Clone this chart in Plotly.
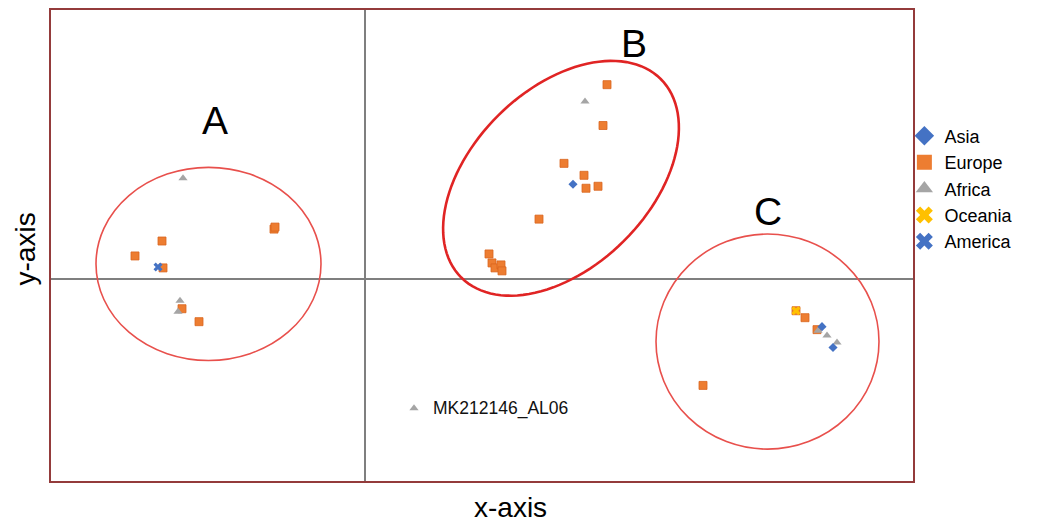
import numpy as np
import plotly.graph_objects as go

# Sample coordinates by region of origin
europe_x = [-0.91, -0.90, -2.03, -2.30, -2.02, -1.83, -1.66,
            2.42, 2.38, 1.99, 2.19, 2.21, 2.33, 1.74, 1.24, 1.27, 1.30, 1.36, 1.37,
            4.31, 4.40, 4.52, 3.38]
europe_y = [0.50, 0.52, 0.38, 0.23, 0.11, -0.30, -0.43,
            1.95, 1.54, 1.16, 1.04, 0.91, 0.93, 0.60, 0.25, 0.16, 0.11, 0.14, 0.08,
            -0.32, -0.39, -0.51, -1.07]

africa_x = [-1.82, -1.85, -1.87, 2.20, 4.53, 4.62, 4.72, 0.49]
africa_y = [1.01, -0.22, -0.33, 1.78, -0.52, -0.57, -0.64, -1.30]

asia_x = [2.08, 4.57, 4.68]
asia_y = [0.95, -0.48, -0.69]

oceania_x = [4.31]
oceania_y = [-0.32]

america_x = [-2.07]
america_y = [0.12]

regions = ["Asia", "Europe", "Africa", "Oceania", "America"]

outlier_name = "MK212146_AL06"
outlier_x, outlier_y = 0.49, -1.30

FONT = "Liberation Sans, Arial, sans-serif"
style = {
    "Asia": dict(symbol="diamond", color="#4472C4", size=7),
    "Europe": dict(symbol="square", color="#ED7D31", size=8),
    "Africa": dict(symbol="triangle-up", color="#A5A5A5", size=8),
    "Oceania": dict(symbol="x", color="#FFC000", size=8),
    "America": dict(symbol="x", color="#4472C4", size=8),
}
data = {
    "Europe": (europe_x, europe_y),
    "Africa": (africa_x, africa_y),
    "Asia": (asia_x, asia_y),
    "Oceania": (oceania_x, oceania_y),
    "America": (america_x, america_y),
}

fig = go.Figure()

# scatter points (drawn Europe first so the other groups sit on top)
for name in ["Europe", "Africa", "Asia", "Oceania", "America"]:
    xs, ys = data[name]
    s = style[name]
    line = dict(width=0.8, color="#D9641E") if name == "Europe" else dict(width=0)
    fig.add_trace(go.Scatter(
        x=xs, y=ys, mode="markers", showlegend=False, name=name,
        marker=dict(symbol=s["symbol"], color=s["color"], size=s["size"], line=line),
    ))

# legend entries with larger symbols
for name in regions:
    s = style[name]
    fig.add_trace(go.Scatter(
        x=[None], y=[None], mode="markers", name=name,
        marker=dict(symbol=s["symbol"], color=s["color"], size=15, line=dict(width=0)),
    ))

# cluster outlines
ell_red = "#E8504C"
fig.add_shape(type="circle", xref="x", yref="y",
              x0=-1.565 - 1.125, x1=-1.565 + 1.125, y0=0.15 - 0.97, y1=0.15 + 0.97,
              line=dict(color=ell_red, width=1.6))
fig.add_shape(type="circle", xref="x", yref="y",
              x0=4.025 - 1.115, x1=4.025 + 1.115, y0=-0.63 - 1.08, y1=-0.63 + 1.08,
              line=dict(color=ell_red, width=1.6))

# tilted ellipse for cluster B
cx, cy, a, b, th = 1.96, 1.01, 1.41, 0.89, np.deg2rad(45)
t = np.linspace(0, 2 * np.pi, 121)
ex = cx + a * np.cos(t) * np.cos(th) - b * np.sin(t) * np.sin(th)
ey = cy + a * np.cos(t) * np.sin(th) + b * np.sin(t) * np.cos(th)
path = "M " + " L ".join(f"{x:.4f},{y:.4f}" for x, y in zip(ex, ey)) + " Z"
fig.add_shape(type="path", xref="x", yref="y", path=path,
              line=dict(color="#E02424", width=2.6))

# cluster letters
for txt, x, y in [("A", -1.505, 1.59), ("B", 2.69, 2.365), ("C", 4.03, 0.68)]:
    fig.add_annotation(x=x, y=y, text=txt, showarrow=False,
                       font=dict(family=FONT, size=39, color="#000000"))

fig.add_annotation(x=outlier_x + 0.17, y=outlier_y, text=outlier_name, showarrow=False,
                   xanchor="left", yanchor="middle",
                   font=dict(family=FONT, size=17.5, color="#111111"))

# axis titles
fig.add_annotation(xref="paper", yref="paper", x=(511 - 51) / 862, y=-(508 - 481) / 473,
                   text="x-axis", showarrow=False, xanchor="center", yanchor="middle",
                   font=dict(family=FONT, size=28, color="#000000"))
fig.add_annotation(xref="paper", yref="paper", x=-(51 - 25) / 862, y=(481 - 248.5) / 473,
                   text="y-axis", showarrow=False, textangle=-90,
                   xanchor="center", yanchor="middle",
                   font=dict(family=FONT, size=28, color="#000000"))

frame = "#943B3B"
axis_common = dict(showgrid=False, showticklabels=False, ticks="",
                   zeroline=True, zerolinecolor="#7F7F7F", zerolinewidth=2,
                   showline=True, linecolor=frame, linewidth=2, mirror=True)
fig.update_xaxes(range=[-3.14, 5.48], **axis_common)
fig.update_yaxes(range=[-2.03, 2.70], **axis_common)

fig.update_layout(
    width=1041, height=524,
    margin=dict(l=51, r=128, t=8, b=43),
    paper_bgcolor="white", plot_bgcolor="white",
    font=dict(family=FONT),
    legend=dict(x=0.99, y=(481 - 116) / 473, xanchor="left", yanchor="top",
                bgcolor="rgba(0,0,0,0)",
                font=dict(family=FONT, size=18, color="#000000")),
)

fig.write_html("out.html")
